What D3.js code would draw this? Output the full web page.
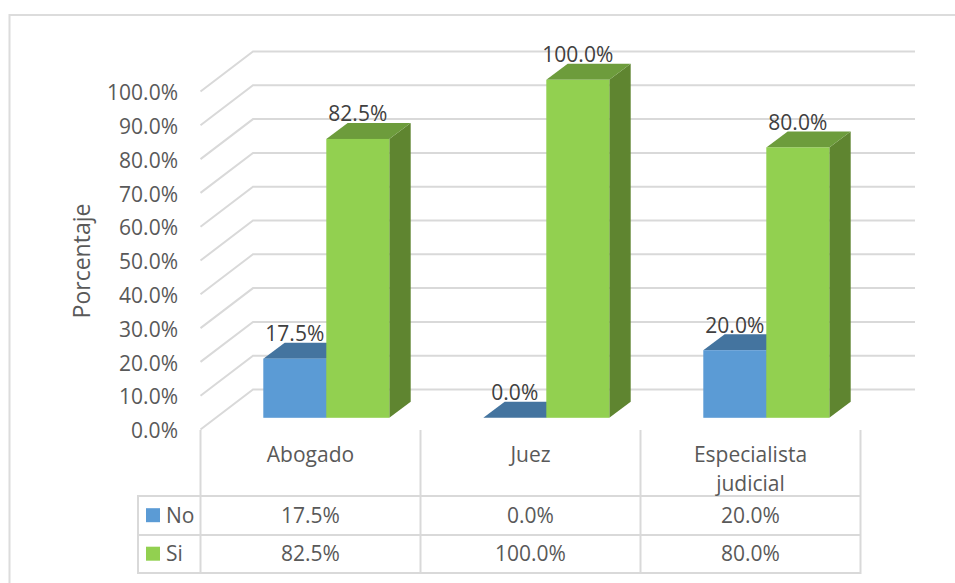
<!DOCTYPE html>
<html><head><meta charset="utf-8">
<script src="https://cdn.jsdelivr.net/npm/d3@7"></script>
<style>html,body{margin:0;padding:0;background:#fff}svg{display:block}text{font-family:"Open Sans",sans-serif}</style>
</head><body><svg id="c" width="955" height="583"></svg>
<script>
const categories = ["Abogado", "Juez", "Especialista judicial"];
const seriesNames = ["No", "Si"];
const noValues = [17.5, 0, 20];
const siValues = [82.5, 100, 80];
const tickValues = [0,10,20,30,40,50,60,70,80,90,100];

const seriesFill = {No:"#5b9bd5", Si:"#92d050"};
const seriesTop = {No:"#44749f", Si:"#6d9c3c"};
const seriesSide = {No:"#3d6a94", Si:"#5f8530"};
const grid = "#d9d9d9", axisText = "#595959", labelText = "#404040";
const fmt = v => d3.format(".1f")(v) + "%";
const svg = d3.select("#c");
const FS = 21;

// frame
svg.append("path").attr("d","M9.5 583V15H955").attr("fill","none").attr("stroke","#dcdcdc").attr("stroke-width",2);

const xCat = d3.scaleBand().domain(categories).range([200.5,860.5]);
const xSer = d3.scaleBand().domain(seriesNames).range([0,126]);
const yFront = d3.scaleLinear().domain([0,100]).range([429.5,91.5]);
const yBack = d3.scaleLinear().domain([0,100]).range([389.5,51.5]);
const yBar = d3.scaleLinear().domain([0,100]).range([417.8,79.8]);
const backL = 253, backR = 915;
const barDx = 21.4, barDy = -16;
const groupShift = -47.2;

// gridlines
const gl = svg.append("g").attr("fill","none").attr("stroke",grid).attr("stroke-width",2);
tickValues.forEach(t=>{
  gl.append("path").attr("d",`M${xCat.range()[0]} ${yFront(t)}L${backL} ${yBack(t)}H${backR}`);
});

// y axis labels
const yAxis = d3.axisLeft(yFront).tickValues(tickValues).tickFormat(fmt).tickSize(0).tickPadding(0);
const ga = svg.append("g").attr("transform","translate(178,0)").call(yAxis);
ga.select(".domain").remove();
ga.selectAll("text").attr("font-size",FS).attr("fill",axisText).attr("dy","0.39em").style("font-family","'Open Sans'");

// axis title
svg.append("text").attr("transform","translate(90,261) rotate(-90)").attr("text-anchor","middle")
  .attr("font-size",23).attr("fill",axisText).text("Porcentaje");

// bars
const rows = categories.map((c,i)=>({c, No:noValues[i], Si:siValues[i]}));
rows.forEach(r=>{
  const x0 = xCat(r.c)+xCat.bandwidth()/2+groupShift;
  seriesNames.forEach(s=>{
    const v = r[s], xl = x0+xSer(s), xr = xl+xSer.bandwidth(), yT = yBar(v), yB = yBar(0);
    const g = svg.append("g");
    g.append("path").attr("fill",seriesSide[s]).attr("d",`M${xr} ${yT}L${xr+barDx} ${yT+barDy}V${yB+barDy}L${xr} ${yB}Z`);
    g.append("path").attr("fill",seriesTop[s]).attr("d",`M${xl} ${yT}L${xl+barDx} ${yT+barDy}H${xr+barDx}L${xr} ${yT}Z`);
    if (v>0) g.append("rect").attr("x",xl).attr("y",yT).attr("width",xr-xl).attr("height",yB-yT).attr("fill",seriesFill[s]);
  });
});
// data labels
rows.forEach(r=>{
  const x0 = xCat(r.c)+xCat.bandwidth()/2+groupShift;
  seriesNames.forEach(s=>{
    svg.append("text").attr("x",x0+xSer(s)+xSer.bandwidth()/2).attr("y",yBar(r[s])+barDy-1.5)
      .attr("text-anchor","middle").attr("font-size",FS).attr("fill",labelText).text(fmt(r[s]));
  });
});

// table
const tableY = [496,535,573], tableL = 138;
const tl = svg.append("g").attr("fill","none").attr("stroke",grid).attr("stroke-width",2);
tableY.forEach(y=>tl.append("line").attr("x1",tableL).attr("x2",861).attr("y1",y).attr("y2",y));
tl.append("line").attr("x1",tableL).attr("x2",tableL).attr("y1",495).attr("y2",574);
[...categories.map(c=>xCat(c)), xCat.range()[1]].forEach(x=>tl.append("line").attr("x1",x).attr("x2",x).attr("y1",430).attr("y2",574));

categories.forEach(c=>{
  const lines = c.split(" ");
  const cx = xCat(c)+xCat.bandwidth()/2;
  lines.forEach((t,i)=>svg.append("text").attr("x",cx).attr("y",461.5+i*29.7).attr("text-anchor","middle")
    .attr("font-size",FS).attr("fill",axisText).text(t));
});
seriesNames.forEach((s,j)=>{
  const yc = (tableY[j]+tableY[j+1])/2;
  svg.append("rect").attr("x",146).attr("y",yc-7.3).attr("width",14).attr("height",14).attr("fill",seriesFill[s]);
  svg.append("text").attr("x",166).attr("y",yc+7.3).attr("font-size",FS).attr("fill",axisText).text(s);
  const vals = s==="No"?noValues:siValues;
  categories.forEach((c,i)=>svg.append("text").attr("x",xCat(c)+xCat.bandwidth()/2).attr("y",yc+7.3)
    .attr("text-anchor","middle").attr("font-size",FS).attr("fill",axisText).text(fmt(vals[i])));
});
</script></body></html>
